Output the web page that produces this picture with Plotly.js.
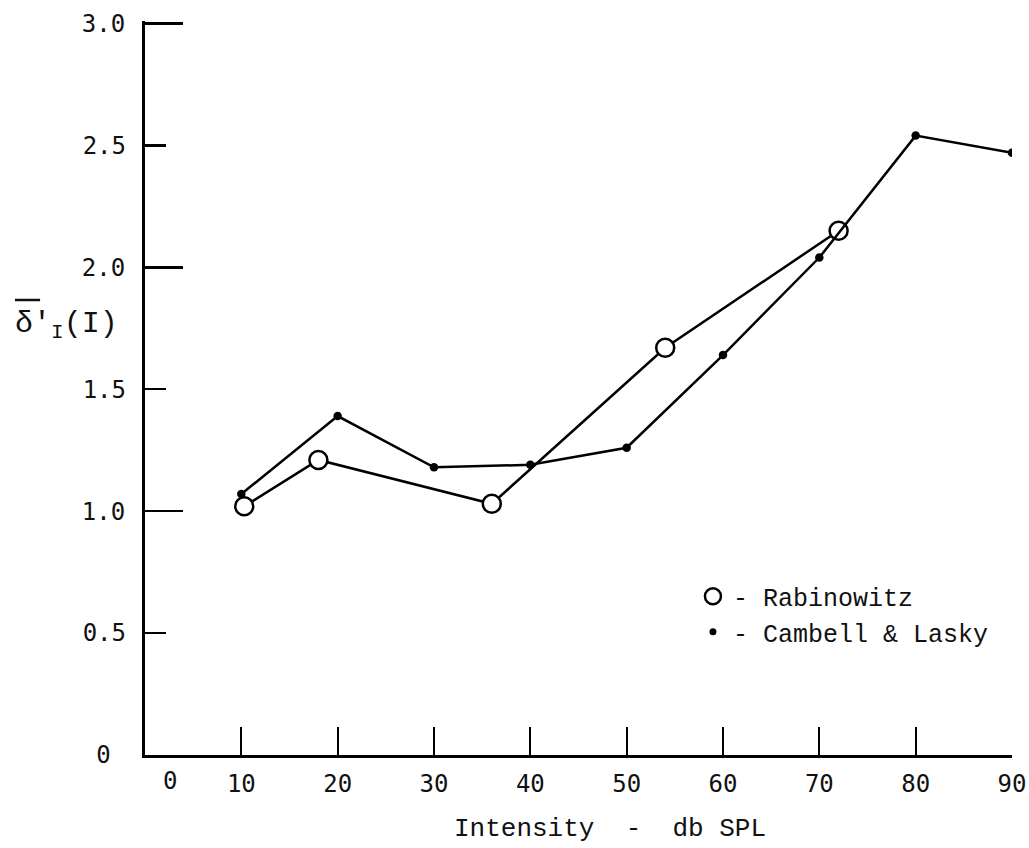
<!DOCTYPE html>
<html>
<head>
<meta charset="utf-8">
<script src="https://cdn.plot.ly/plotly-3.0.1.min.js"></script>
<style>html,body{margin:0;padding:0;background:#fff;}#chart{width:1029px;height:848px;}</style>
</head>
<body>
<div id="chart"></div>
<script>
// Data
const rabinowitzX = [10.3, 18, 36, 54, 72];
const rabinowitzY = [1.02, 1.21, 1.03, 1.67, 2.15];
const cambellX = [10, 20, 30, 40, 50, 60, 70, 80, 90];
const cambellY = [1.07, 1.39, 1.18, 1.19, 1.26, 1.64, 2.04, 2.54, 2.47];
const xTickVals = [10, 20, 30, 40, 50, 60, 70, 80, 90];
const xTickText = ["10", "20", "30", "40", "50", "60", "70", "80", "90"];
const yLongTicks = [0, 1, 2, 3];
const yLongText = ["0\u00A0", "1.0", "2.0", "3.0"];
const yShortTicks = [0.5, 1.5, 2.5];
const yShortText = ["0.5", "1.5", "2.5"];
const seriesNames = ["- Rabinowitz", "- Cambell & Lasky"];

const tickFont = {family: "DejaVu Sans Mono", size: 24, color: "#111"};
const typeFont = {family: "Liberation Mono", size: 25, color: "#111"};

const traces = [
  {
    x: rabinowitzX, y: rabinowitzY, mode: "lines+markers", showlegend: false,
    line: {color: "#000", width: 2.5},
    marker: {symbol: "circle", size: 18, color: "#fff", line: {color: "#000", width: 2.5}}
  },
  {
    x: cambellX, y: cambellY, yaxis: "y2", mode: "lines+markers", showlegend: false,
    line: {color: "#000", width: 2.5},
    marker: {symbol: "circle", size: 8.5, color: "#000"}
  },
  {
    x: [null], y: [null], mode: "markers", name: seriesNames[0],
    marker: {symbol: "circle", size: 16, color: "#fff", line: {color: "#000", width: 2.5}}
  },
  {
    x: [null], y: [null], mode: "markers", name: seriesNames[1],
    marker: {symbol: "circle", size: 7, color: "#000"}
  }
];

const layout = {
  width: 1029, height: 848,
  margin: {l: 145, r: 17, t: 21, b: 93, pad: 0},
  paper_bgcolor: "#fff", plot_bgcolor: "#fff",
  showlegend: true,
  legend: {
    x: 0.632, y: 0.192, xanchor: "left", yanchor: "middle",
    font: typeFont, bgcolor: "rgba(0,0,0,0)", borderwidth: 0,
    itemwidth: 30
  },
  xaxis: {
    range: [0, 90], showgrid: false, zeroline: false,
    showline: true, linecolor: "#000", linewidth: 3,
    ticks: "inside", ticklen: 28, tickwidth: 2, tickcolor: "#000",
    tickmode: "array", tickvals: xTickVals, ticktext: xTickText,
    tickfont: tickFont, ticklabelstandoff: 5
  },
  yaxis: {
    range: [0, 3.01], showgrid: false, zeroline: false,
    showline: true, linecolor: "#000", linewidth: 3,
    ticks: "inside", ticklen: 38, tickwidth: 2.5, tickcolor: "#000",
    tickmode: "array", tickvals: yLongTicks, ticktext: yLongText,
    tickfont: tickFont, ticklabelstandoff: 12,
    minor: {tickmode: "array", tickvals: yShortTicks, ticks: "inside", ticklen: 21, tickwidth: 2.5, tickcolor: "#000", showgrid: false}
  },
  yaxis2: {
    overlaying: "y", side: "left", range: [0, 3.01],
    showgrid: false, zeroline: false, showline: false, ticks: "",
    tickmode: "array", tickvals: yShortTicks, ticktext: yShortText,
    tickfont: tickFont, ticklabelstandoff: 18
  },
  shapes: [
    {type: "line", xref: "paper", yref: "paper", x0: -0.150, x1: -0.121, y0: 0.6199, y1: 0.6199,
     line: {color: "#111", width: 2.5}}
  ],
  annotations: [
    {
      text: "0", xref: "x", yref: "paper", x: 2.6, y: 0, yanchor: "top", xanchor: "center",
      yshift: -10, showarrow: false, font: tickFont
    },
    {
      text: "Intensity\u00A0\u00A0-\u00A0\u00A0db SPL", xref: "paper", yref: "paper",
      x: 0.5365, y: -0.1008, xanchor: "center", yanchor: "middle", showarrow: false,
      font: {family: "Liberation Mono", size: 26, color: "#111"}
    },
    {
      text: "\u03B4\u2032<sub>I</sub>(I)", xref: "paper", yref: "paper",
      x: -0.152, y: 0.585, xanchor: "left", yanchor: "middle", showarrow: false,
      font: {family: "Liberation Mono", size: 30, color: "#111"}
    }
  ]
};

Plotly.newPlot("chart", traces, layout, {staticPlot: true, displayModeBar: false});
</script>
</body>
</html>
